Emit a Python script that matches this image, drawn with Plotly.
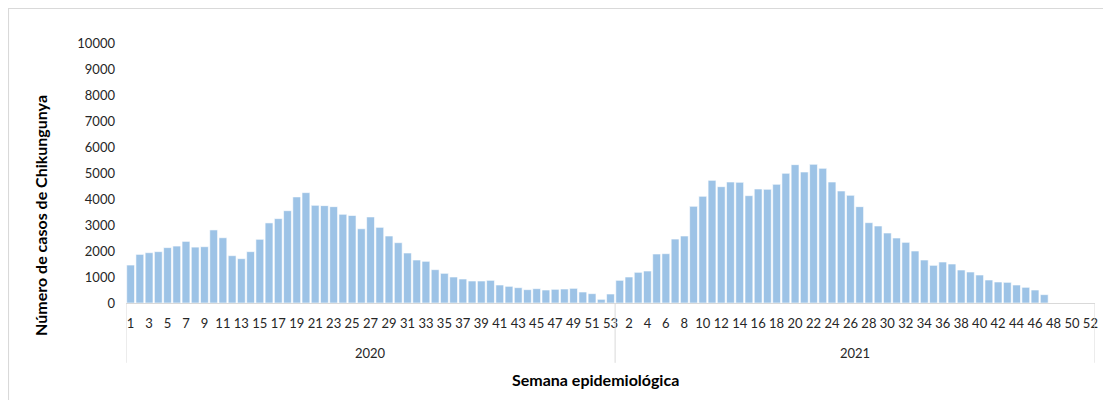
import plotly.graph_objects as go

# Casos semanales de Chikungunya por semana epidemiológica
weeks_2020 = list(range(1, 54))
cases_2020 = [
    1460, 1870, 1935, 1975, 2130, 2190, 2370, 2150, 2165, 2810,
    2510, 1820, 1705, 1975, 2450, 3080, 3245, 3550, 4080, 4245,
    3755, 3745, 3705, 3410, 3365, 2855, 3310, 2910, 2577, 2320,
    1923, 1654, 1603, 1282, 1141, 1000, 923, 846, 846, 872,
    692, 641, 590, 513, 551, 500, 526, 538, 564, 423,
    359, 141, 346,
]

weeks_2021 = list(range(1, 53))
cases_2021 = [
    872, 1000, 1180, 1230, 1885, 1897, 2460, 2577, 3718, 4103,
    4718, 4474, 4654, 4641, 4128, 4385, 4372, 4564, 4987, 5321,
    5038, 5333, 5179, 4654, 4308, 4141, 3705, 3090, 2962, 2692,
    2500, 2333, 2000, 1654, 1449, 1577, 1500, 1269, 1192, 1077,
    885, 808, 795, 692, 603, 500, 321, None, None, None,
    None, None,
]

year_labels = ["2020", "2021"]

# categorías únicas año-semana
cats = [f"2020-{w}" for w in weeks_2020] + [f"2021-{w}" for w in weeks_2021]
week_text = [str(w) for w in weeks_2020 + weeks_2021]
cases = cases_2020 + cases_2021
n20, n21 = len(weeks_2020), len(weeks_2021)

fig = go.Figure()
fig.add_trace(go.Bar(
    x=cats, y=cases,
    marker=dict(color="#9dc3e6", line=dict(width=0.6, color="#ffffff")),
    hovertemplate="%{x}: %{y}<extra></extra>",
))

font = "Lato, 'Open Sans', Arial, sans-serif"

# divisores del eje de categorías de dos niveles
for xb in [-0.5, n20 - 0.5, n20 + n21 - 0.5]:
    fig.add_shape(type="line", xref="x", yref="paper", x0=xb, x1=xb, y0=0, y1=-0.23,
                  line=dict(color="#d9d9d9", width=1))

# etiquetas de año
for label, xc in zip(year_labels, [(n20 - 1) / 2, n20 + (n21 - 1) / 2]):
    fig.add_annotation(x=xc, y=-0.192, xref="x", yref="paper", text=label,
                       showarrow=False, yanchor="middle",
                       font=dict(family=font, size=13, color="#262626"))

# títulos de ejes
fig.add_annotation(x=0.485, y=-0.296, xref="paper", yref="paper",
                   text="<b>Semana epidemiológica</b>", showarrow=False,
                   xanchor="center", yanchor="middle",
                   font=dict(family=font, size=16, color="#000000"))
fig.add_annotation(x=-0.089, y=0.338, xref="paper", yref="paper",
                   text="<b>Número de casos de Chikungunya</b>", showarrow=False,
                   textangle=-90, xanchor="center", yanchor="middle",
                   font=dict(family=font, size=16, color="#000000"))

# marco del gráfico
fig.add_shape(type="rect", xref="paper", yref="paper",
              x0=-0.1213, x1=1.05, y0=-0.5, y1=1.1327,
              line=dict(color="#d9d9d9", width=1.2), fillcolor="rgba(0,0,0,0)")

fig.update_layout(
    width=1111, height=400,
    margin=dict(l=118, r=24, t=35, b=105),
    paper_bgcolor="white", plot_bgcolor="white",
    bargap=0.15, showlegend=False,
    font=dict(family=font, size=13, color="#262626"),
    xaxis=dict(
        type="category", automargin=False,
        tickmode="array", tickvals=cats[::2], ticktext=week_text[::2],
        showline=True, linecolor="#d9d9d9", linewidth=1,
        showgrid=False, ticks="", tickangle=0, ticklabelstandoff=8,
        range=[-0.5, n20 + n21 - 0.5],
        tickfont=dict(size=13, color="#262626"),
    ),
    yaxis=dict(
        range=[0, 10000], dtick=1000, showgrid=False, zeroline=False,
        showline=False, ticks="", tickformat="d", automargin=False,
        ticklabelstandoff=10,
        tickfont=dict(size=13, color="#262626"),
    ),
)

fig.write_html("out.html")
